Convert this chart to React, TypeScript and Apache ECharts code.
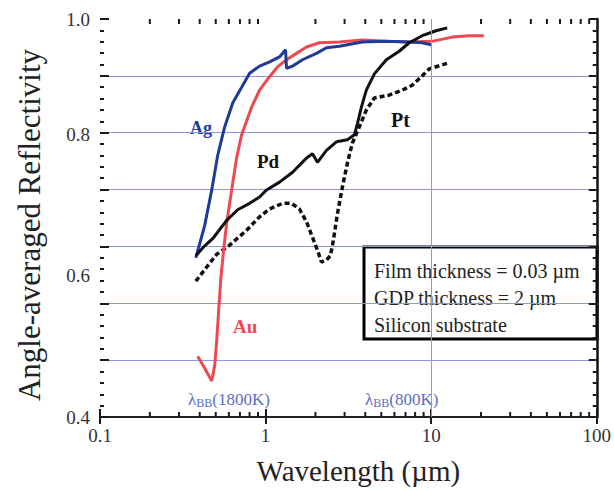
import React, { useEffect, useRef } from "react";
import * as echarts from "echarts";

// Wavelength (µm) and angle-averaged reflectivity
const agWavelength = [0.379, 0.429, 0.473, 0.514, 0.566, 0.633, 0.717, 0.801, 0.92, 1.057, 1.214, 1.32, 1.338, 1.455, 1.671, 2.028, 2.331, 2.79, 3.84, 5.36, 7.37, 8.83, 10.0];
const agReflectivity = [0.625, 0.671, 0.721, 0.77, 0.81, 0.844, 0.866, 0.886, 0.896, 0.902, 0.909, 0.919, 0.893, 0.896, 0.905, 0.914, 0.922, 0.924, 0.93, 0.931, 0.93, 0.929, 0.926];

const auWavelength = [0.389, 0.429, 0.473, 0.493, 0.507, 0.521, 0.536, 0.558, 0.582, 0.624, 0.669, 0.717, 0.823, 0.92, 1.057, 1.181, 1.338, 1.537, 1.766, 2.114, 2.79, 3.84, 5.36, 7.37, 10.1, 13.4, 16.9, 20.8];
const auReflectivity = [0.486, 0.469, 0.451, 0.473, 0.509, 0.551, 0.594, 0.636, 0.674, 0.721, 0.767, 0.799, 0.838, 0.862, 0.881, 0.895, 0.905, 0.914, 0.923, 0.929, 0.93, 0.933, 0.931, 0.93, 0.931, 0.937, 0.939, 0.939];

const pdWavelength = [0.379, 0.429, 0.479, 0.582, 0.678, 0.801, 0.92, 1.014, 1.214, 1.455, 1.766, 1.919, 2.057, 2.331, 2.677, 3.12, 3.44, 3.58, 3.79, 4.06, 4.54, 5.36, 6.41, 7.37, 8.83, 10.7, 12.5];
const pdReflectivity = [0.628, 0.642, 0.652, 0.678, 0.693, 0.702, 0.711, 0.721, 0.732, 0.746, 0.766, 0.772, 0.76, 0.777, 0.789, 0.792, 0.799, 0.814, 0.838, 0.862, 0.885, 0.905, 0.917, 0.929, 0.939, 0.946, 0.95];

const ptWavelength = [0.379, 0.441, 0.507, 0.607, 0.768, 0.92, 1.057, 1.266, 1.434, 1.6, 1.766, 1.919, 2.057, 2.174, 2.331, 2.464, 2.568, 2.715, 2.91, 3.12, 3.34, 3.68, 4.06, 4.54, 5.58, 6.69, 7.68, 8.71, 9.73, 12.5];
const ptReflectivity = [0.592, 0.612, 0.63, 0.643, 0.664, 0.683, 0.694, 0.702, 0.702, 0.694, 0.676, 0.654, 0.636, 0.619, 0.622, 0.628, 0.65, 0.687, 0.725, 0.759, 0.787, 0.81, 0.834, 0.851, 0.855, 0.862, 0.869, 0.881, 0.892, 0.9];

const xMin = 0.1;
const xMax = 100;
const yMin = 0.4;
const yTop = 0.9626; // top of the frame, labelled "1.0" in the original
const yLabelStep = 0.2;
const minorXTicks = [0.2, 0.3, 0.4, 0.5, 0.6, 0.7, 0.8, 0.9, 2, 3, 4, 5, 6, 7, 8, 9, 20, 30, 40, 50, 60, 70, 80, 90];
const gridDivisions = 7;

const boxLines = ["Film thickness = 0.03 µm", "GDP thickness = 2 µm", "Silicon substrate"];

const SERIF = "'Liberation Serif', 'DejaVu Serif', serif";
const BLUE = "#1e3c96";
const RED = "#ec4a50";
const GRID_BLUE = "#8e97d8";
const LAMBDA_BLUE = "#5b6cc4";

const zip = (xs: number[], ys: number[]) => xs.map((x, i) => [x, ys[i]]);

export default function App() {
  const ref = useRef<HTMLDivElement>(null);

  useEffect(() => {
    if (!ref.current) return;
    const chart = echarts.init(ref.current, undefined, { renderer: "svg" });

    const tickStyle = { color: "#1a1a1a", width: 2 };

    const lambdaRich = {
      a: { fontFamily: SERIF, fontSize: 17, fill: LAMBDA_BLUE, color: LAMBDA_BLUE },
      b: { fontFamily: SERIF, fontSize: 12, fill: LAMBDA_BLUE, color: LAMBDA_BLUE, padding: [7, 0, 0, 0] },
    };

    chart.setOption({
      animation: false,
      backgroundColor: "#ffffff",
      grid: { left: 100, right: 14, top: 19, bottom: 74, containLabel: false },
      xAxis: [
        {
          type: "log",
          logBase: 10,
          min: xMin,
          max: xMax,
          position: "bottom",
          axisLine: { show: true, lineStyle: { color: "#1c261c", width: 2 } },
          axisTick: { show: true, inside: true, length: 8, lineStyle: tickStyle },
          axisLabel: {
            fontFamily: SERIF,
            fontSize: 19,
            color: "#333",
            margin: 9,
            formatter: (v: number) => String(+v.toPrecision(3)),
          },
          splitLine: { show: false },
          name: "Wavelength (µm)",
          nameLocation: "middle",
          nameGap: 39,
          nameTextStyle: { fontFamily: SERIF, fontSize: 29, color: "#222", padding: [0, 0, 0, 20] },
        },
        {
          type: "log",
          logBase: 10,
          min: xMin,
          max: xMax,
          position: "top",
          axisLine: { show: false },
          axisTick: { show: true, inside: true, length: 7, lineStyle: tickStyle },
          axisLabel: { show: false },
          splitLine: { show: false },
        },
      ],
      yAxis: [
        {
          type: "value",
          min: yMin,
          max: yTop,
          interval: yLabelStep,
          position: "left",
          axisLine: { show: false },
          axisTick: { show: false },
          splitLine: { show: false },
          axisLabel: {
            showMaxLabel: true,
            fontFamily: SERIF,
            fontSize: 19,
            color: "#333",
            margin: 10,
            formatter: (v: number) => v.toFixed(1),
          },
          name: "Angle-averaged Reflectivity",
          nameLocation: "middle",
          nameGap: 55,
          nameRotate: 90,
          nameTextStyle: { fontFamily: SERIF, fontSize: 31, color: "#222", padding: [0, 14, 0, 0] },
        },
        {
          type: "value",
          min: 0,
          max: gridDivisions,
          interval: 1,
          position: "left",
          axisLine: { show: false },
          axisTick: { show: true, inside: true, length: 9, lineStyle: tickStyle },
          minorTick: { show: true, splitNumber: 5, length: 4, lineStyle: tickStyle },
          axisLabel: { show: false },
          splitLine: { show: true, showMinLine: false, showMaxLine: false, lineStyle: { color: GRID_BLUE, width: 1 } },
        },
        {
          type: "value",
          min: 0,
          max: gridDivisions,
          interval: 1,
          position: "right",
          axisLine: { show: true, lineStyle: { color: "#111", width: 2.5 } },
          axisTick: { show: true, inside: true, length: 8, lineStyle: tickStyle },
          minorTick: { show: true, splitNumber: 5, length: 4, lineStyle: tickStyle },
          axisLabel: { show: false },
          splitLine: { show: false },
        },
      ],
      series: [
        {
          type: "custom",
          xAxisIndex: 0,
          yAxisIndex: 0,
          silent: true,
          clip: false,
          data: minorXTicks.map((v) => [v, yMin]),
          encode: { x: 0, y: 1 },
          renderItem: (params: any, api: any) => {
            const x = api.coord([api.value(0), yMin])[0];
            const cs = params.coordSys;
            const style = { stroke: "#1a1a1a", lineWidth: 2 };
            return {
              type: "group",
              children: [
                { type: "line", shape: { x1: x, y1: cs.y + cs.height, x2: x, y2: cs.y + cs.height - 5 }, style },
                { type: "line", shape: { x1: x, y1: cs.y, x2: x, y2: cs.y + 5 }, style },
              ],
            };
          },
        },
        {
          name: "Pt",
          type: "line",
          data: zip(ptWavelength, ptReflectivity),
          showSymbol: false,
          lineStyle: { color: "#111", width: 3.5, type: [5, 3], cap: "butt" },
          markLine: {
            silent: true,
            symbol: "none",
            label: { show: false },
            lineStyle: { color: GRID_BLUE, width: 1, type: "solid" },
            data: [{ xAxis: 10 }],
          },
        },
        {
          name: "Au",
          type: "line",
          data: zip(auWavelength, auReflectivity),
          showSymbol: false,
          lineStyle: { color: RED, width: 3 },
        },
        {
          name: "Ag",
          type: "line",
          data: zip(agWavelength, agReflectivity),
          showSymbol: false,
          lineStyle: { color: BLUE, width: 3 },
        },
        {
          name: "Pd",
          type: "line",
          data: zip(pdWavelength, pdReflectivity),
          showSymbol: false,
          lineStyle: { color: "#111", width: 3 },
        },
      ],
      graphic: [
        { type: "text", x: 190, y: 119, style: { text: "Ag", fontFamily: SERIF, fontSize: 18, fontWeight: "bold", fill: BLUE } },
        { type: "text", x: 257, y: 152, style: { text: "Pd", fontFamily: SERIF, fontSize: 19, fontWeight: "bold", fill: "#111" } },
        { type: "text", x: 391, y: 110, style: { text: "Pt", fontFamily: SERIF, fontSize: 20, fontWeight: "bold", fill: "#111" } },
        { type: "text", x: 233, y: 317, style: { text: "Au", fontFamily: SERIF, fontSize: 19, fontWeight: "bold", fill: RED } },
        { type: "text", x: 188, y: 390, style: { text: "{a|λ}{b|BB}{a|(1800K)}", rich: lambdaRich } },
        { type: "text", x: 365, y: 390, style: { text: "{a|λ}{b|BB}{a|(800K)}", rich: lambdaRich } },
        {
          type: "rect",
          shape: { x: 364, y: 247, width: 233, height: 92 },
          style: { fill: "#ffffff", stroke: "#000", lineWidth: 3 },
        },
        ...boxLines.map((t, i) => ({
          type: "text",
          x: 374,
          y: 261 + i * 27,
          style: { text: t, fontFamily: SERIF, fontSize: 20, fill: "#222" },
        })),
      ],
    });

    return () => chart.dispose();
  }, []);

  return (
    <div
      ref={ref}
      style={{ position: "absolute", left: 0, top: 0, width: 614, height: 491, background: "#fff" }}
    />
  );
}
